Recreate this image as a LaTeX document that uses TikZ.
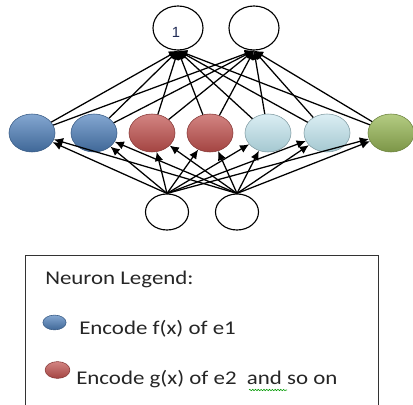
\documentclass[tikz,border=0pt]{standalone}
\usepackage{fontspec}
\setmainfont[FakeStretch=1.18]{Carlito}
\newfontfamily\digitfont{Liberation Sans}
\usetikzlibrary{shapes.geometric, arrows.meta, decorations.pathmorphing}

\definecolor{ballblue}{HTML}{4F81BD}
\definecolor{ballred}{HTML}{C0504D}
\definecolor{ballcyan}{HTML}{B7DEE8}
\definecolor{ballgreen}{HTML}{9BBB59}
\definecolor{labelnavy}{HTML}{1F2A55}

\tikzset{
	ball/.style={ellipse, inner sep=0pt, minimum width=1.15cm, minimum height=0.95cm},
	blueball/.style={ball, top color=ballblue!70!white, bottom color=ballblue!80!black, draw=ballblue!70!black},
	redball/.style={ball, top color=ballred!70!white, bottom color=ballred!85!black, draw=ballred!70!black},
	cyanball/.style={ball, top color=ballcyan!50!white, bottom color=ballcyan!90!black, draw=ballcyan!70!black},
	greenball/.style={ball, top color=ballgreen!75!white, bottom color=ballgreen!80!black, draw=ballgreen!70!black},
	outnode/.style={ellipse, draw, thick, inner sep=0pt, minimum width=1.25cm, minimum height=1.1cm},
	innode/.style={ellipse, draw, thick, inner sep=0pt, minimum width=1.075cm, minimum height=0.9cm},
	link/.style={-{Latex[length=6.5pt,width=6pt]}, line width=0.9pt},
	legendtext/.style={anchor=base west, inner sep=0pt, font=\fontsize{13.8}{16}\selectfont, text=black!85}
}

\begin{document}
\begin{tikzpicture}[x=0.025cm, y=-0.025cm]
		\useasboundingbox (0,0) rectangle (413,405);
		% output layer
		\node[outnode] (t1) at (178,28) {};
		\node[outnode] (t2) at (254,28) {};
		\node[text=labelnavy, font=\digitfont\fontsize{10.5}{12}\selectfont] (one) at (176,32) {1};
		% hidden layer
		\node[blueball] (m1) at (32,133) {};
		\node[blueball] (m2) at (94,133) {};
		\node[redball] (m3) at (152,133) {};
		\node[redball] (m4) at (210,133) {};
		\node[cyanball] (m5) at (268,133) {};
		\node[cyanball] (m6) at (327,133) {};
		\node[greenball] (m7) at (391,133) {};
		% input layer
		\node[innode] (b1) at (167,212) {};
		\node[innode] (b2) at (237,212) {};
		% hidden -> output
		\draw[link] (m1) -- (t1.south);
		\draw[link] (m1) -- (t2.south);
		\draw[link] (m2) -- (t1.south);
		\draw[link] (m2) -- (t2.south);
		\draw[link] (m3) -- (t1.south);
		\draw[link] (m3) -- (t2.south);
		\draw[link] (m4) -- (t1.south);
		\draw[link] (m4) -- (t2.south);
		\draw[link] (m5) -- (t1.south);
		\draw[link] (m5) -- (t2.south);
		\draw[link] (m6) -- (t1.south);
		\draw[link] (m6) -- (t2.south);
		\draw[link] (m7) -- (t1.south);
		\draw[link] (m7) -- (t2.south);
		% input -> hidden
		\draw[link] (b1.north) -- (m1);
		\draw[link] (b1.north) -- (m2);
		\draw[link] (b1.north) -- (m3);
		\draw[link] (b1.north) -- (m4);
		\draw[link] (b1.north) -- (m5);
		\draw[link] (b1.north) -- (m6);
		\draw[link] (b1.north) -- (m7);
		\draw[link] (b2.north) -- (m1);
		\draw[link] (b2.north) -- (m2);
		\draw[link] (b2.north) -- (m3);
		\draw[link] (b2.north) -- (m4);
		\draw[link] (b2.north) -- (m5);
		\draw[link] (b2.north) -- (m6);
		\draw[link] (b2.north) -- (m7);
		% legend
		\draw[black!80, line width=0.7pt] (25,406) -- (25,255) -- (378,255) -- (378,406);
		\node[legendtext] (title) at (45,284) {Neuron Legend:};
		\node[blueball, minimum width=0.58cm, minimum height=0.37cm] (key1) at (54.5,322.5) {};
		\node[legendtext] (text1) at (79,334) {Encode f(x) of e1};
		\node[redball, minimum width=0.62cm, minimum height=0.42cm] (key2) at (57.5,370) {};
		\node[legendtext] (text2) at (76,384) {Encode g(x) of e2\ \ and so on};
		\draw[green!60!black, line width=0.4pt, decorate, decoration={snake, amplitude=0.5pt, segment length=2pt}] (249,390) -- (287,390);
	\end{tikzpicture}
\end{document}
